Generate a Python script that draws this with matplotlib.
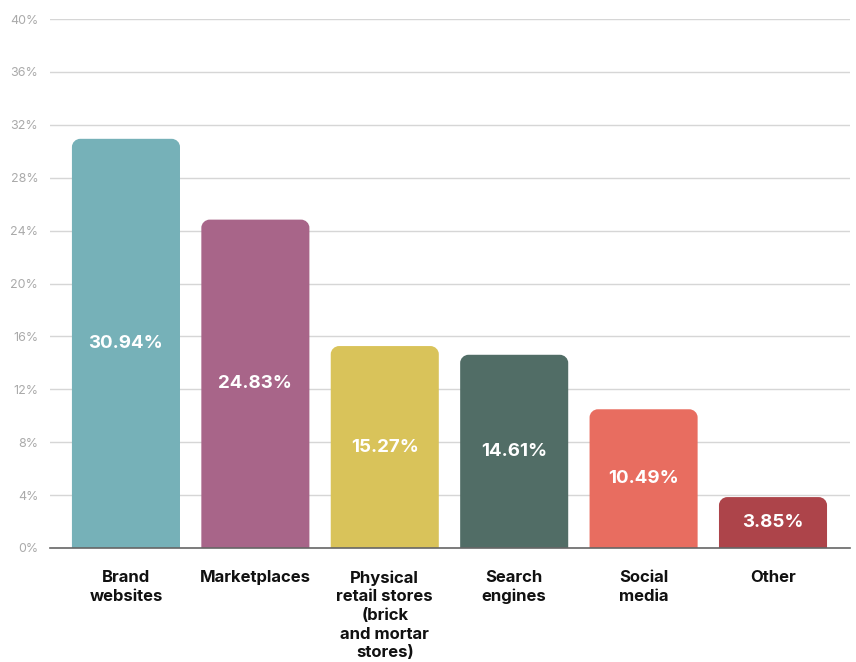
import matplotlib.pyplot as plt
from matplotlib.patches import PathPatch
from matplotlib.path import Path

plt.rcParams['font.family'] = ['Inter', 'DejaVu Sans']

categories = ["Brand\nwebsites", "Marketplaces", "Physical\nretail stores\n(brick\nand mortar\nstores)",
              "Search\nengines", "Social\nmedia", "Other"]
shares = [30.94, 24.83, 15.27, 14.61, 10.49, 3.85]
colors = ["#76B1B8", "#A86589", "#D9C35A", "#516D66", "#E86D60", "#AD444A"]

fig = plt.figure(figsize=(8.56, 6.62), dpi=100)
ax = fig.add_axes([50 / 856, 1 - 548 / 662, 800 / 856, 529 / 662])

ax.set_xlim(-0.587, 5.595)
ax.set_ylim(0, 40)


def top_rounded_bar(x0, w, h, rx, ry):
    # bar with only the two top corners rounded
    ry = min(ry, h / 2)
    k = 0.5523
    verts = [(x0, 0), (x0, h - ry),
             (x0, h - ry + k * ry), (x0 + rx - k * rx, h), (x0 + rx, h),
             (x0 + w - rx, h),
             (x0 + w - rx + k * rx, h), (x0 + w, h - ry + k * ry), (x0 + w, h - ry),
             (x0 + w, 0), (x0, 0)]
    codes = [Path.MOVETO, Path.LINETO,
             Path.CURVE4, Path.CURVE4, Path.CURVE4,
             Path.LINETO,
             Path.CURVE4, Path.CURVE4, Path.CURVE4,
             Path.LINETO, Path.CLOSEPOLY]
    return Path(verts, codes)


width = 0.835
for i, (v, c) in enumerate(zip(shares, colors)):
    ax.add_patch(PathPatch(top_rounded_bar(i - width / 2, width, v, 0.065, 0.62),
                           fc=c, ec="none", zorder=3))
    ax.text(i, v / 2, f"{v:.2f}%", ha="center", va="center", color="white",
            fontsize=13.5, fontweight="bold", zorder=4)

ax.set_yticks(range(0, 41, 4))
ax.set_yticklabels([f"{t}%" for t in range(0, 41, 4)], color="#AAAAAA", fontsize=9)
ax.yaxis.grid(True, color="#D6D6D6", linewidth=1, zorder=0)
ax.tick_params(axis="y", length=0, pad=8.5)
ax.set_xticks(range(len(categories)))
ax.set_xticklabels(categories, fontsize=12, fontweight="bold", color="#111111",
                   linespacing=1.3)
ax.tick_params(axis="x", length=0, pad=16)
for s in ["top", "right", "left"]:
    ax.spines[s].set_visible(False)
ax.spines["bottom"].set_color("#666666")
ax.spines["bottom"].set_linewidth(1.2)
ax.spines["bottom"].set_zorder(5)

fig.savefig("out.png", dpi=100)
